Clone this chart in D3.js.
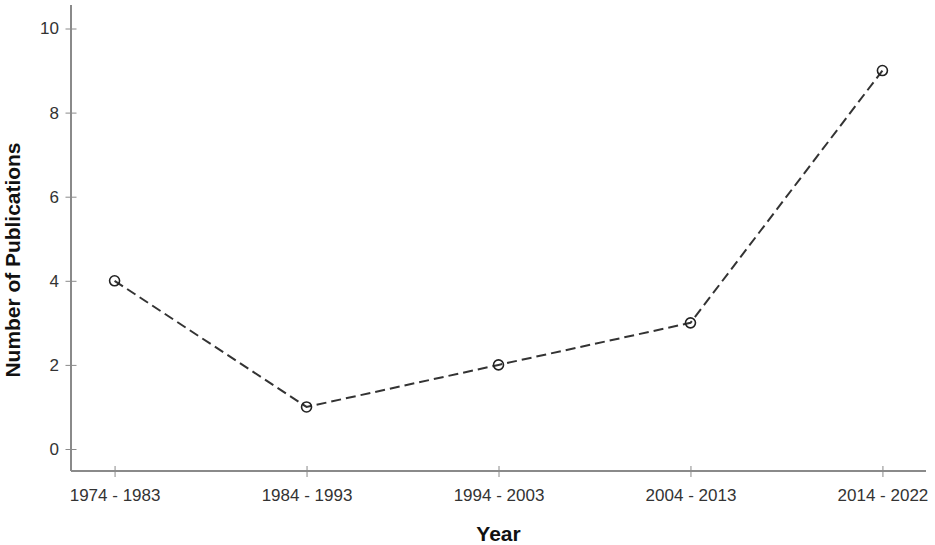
<!DOCTYPE html>
<html><head><meta charset="utf-8">
<script src="https://cdn.jsdelivr.net/npm/d3@7"></script>
<style>body{margin:0;background:#fff}svg{display:block}</style>
</head><body>
<svg id="c" width="935" height="545"></svg>
<script>
const categories = ["1974 - 1983","1984 - 1993","1994 - 2003","2004 - 2013","2014 - 2022"];
const publications = [4,1,2,3,9];
const yTicks = [0,2,4,6,8,10];

const svg = d3.select("#c");
const x0 = 71, x1 = 926, yTop = 5, yBase = 471;
const x = d3.scalePoint().domain(categories).range([x0, x1]).padding(0.227);
const y = d3.scaleLinear().domain([0,10]).range([449, 28.5]);
const axisColor = "#8a8a8a";
const font = "Arial, 'Liberation Sans', sans-serif";

// axis lines
svg.append("line").attr("x1",x0).attr("x2",x0).attr("y1",yTop).attr("y2",yBase)
  .attr("stroke",axisColor).attr("stroke-width",2);
svg.append("line").attr("x1",x0).attr("x2",x1).attr("y1",yBase).attr("y2",yBase)
  .attr("stroke",axisColor).attr("stroke-width",2);

// y ticks
const yAxis = svg.append("g").attr("transform",`translate(${x0},0)`)
  .call(d3.axisLeft(y).tickValues(yTicks).tickSize(5).tickPadding(7));
yAxis.attr("font-size",null).attr("font-family",null);
yAxis.select(".domain").remove();
yAxis.selectAll(".tick line").attr("stroke",axisColor).attr("x2",5.5).attr("x1",-5.5);
yAxis.selectAll(".tick text").style("font-family",font).style("font-size","17px").attr("fill","#333");

// x ticks
const xAxis = svg.append("g").attr("transform",`translate(0,${yBase})`)
  .call(d3.axisBottom(x).tickSize(5).tickPadding(13));
xAxis.attr("font-size",null).attr("font-family",null);
xAxis.select(".domain").remove();
xAxis.selectAll(".tick line").attr("stroke",axisColor).attr("y1",-5).attr("y2",6);
xAxis.selectAll(".tick text").style("font-family",font).style("font-size","17px").attr("fill","#333");

// line
const data = categories.map((c,i)=>({c, v: publications[i]}));
svg.append("path").datum(data)
  .attr("d", d3.line().x(d=>x(d.c)).y(d=>y(d.v)))
  .attr("fill","none").attr("stroke","#333").attr("stroke-width",2)
  .attr("stroke-dasharray","10,5");
svg.selectAll("circle.pt").data(data).join("circle").attr("class","pt")
  .attr("cx",d=>x(d.c)).attr("cy",d=>y(d.v)).attr("r",5)
  .attr("fill","none").attr("stroke","#222").attr("stroke-width",1.6);

// titles
svg.append("text").attr("x",(x(categories[0])+x(categories[4]))/2).attr("y",541)
  .attr("text-anchor","middle").style("font-family",font).attr("font-weight","bold")
  .style("font-size","21px").attr("fill","#111").text("Year");
svg.append("text").attr("transform","translate(20,260) rotate(-90)")
  .attr("text-anchor","middle").style("font-family",font).attr("font-weight","bold")
  .style("font-size","20px").attr("fill","#111")
  .attr("textLength",235).attr("lengthAdjust","spacingAndGlyphs").text("Number of Publications");
</script>
</body></html>
